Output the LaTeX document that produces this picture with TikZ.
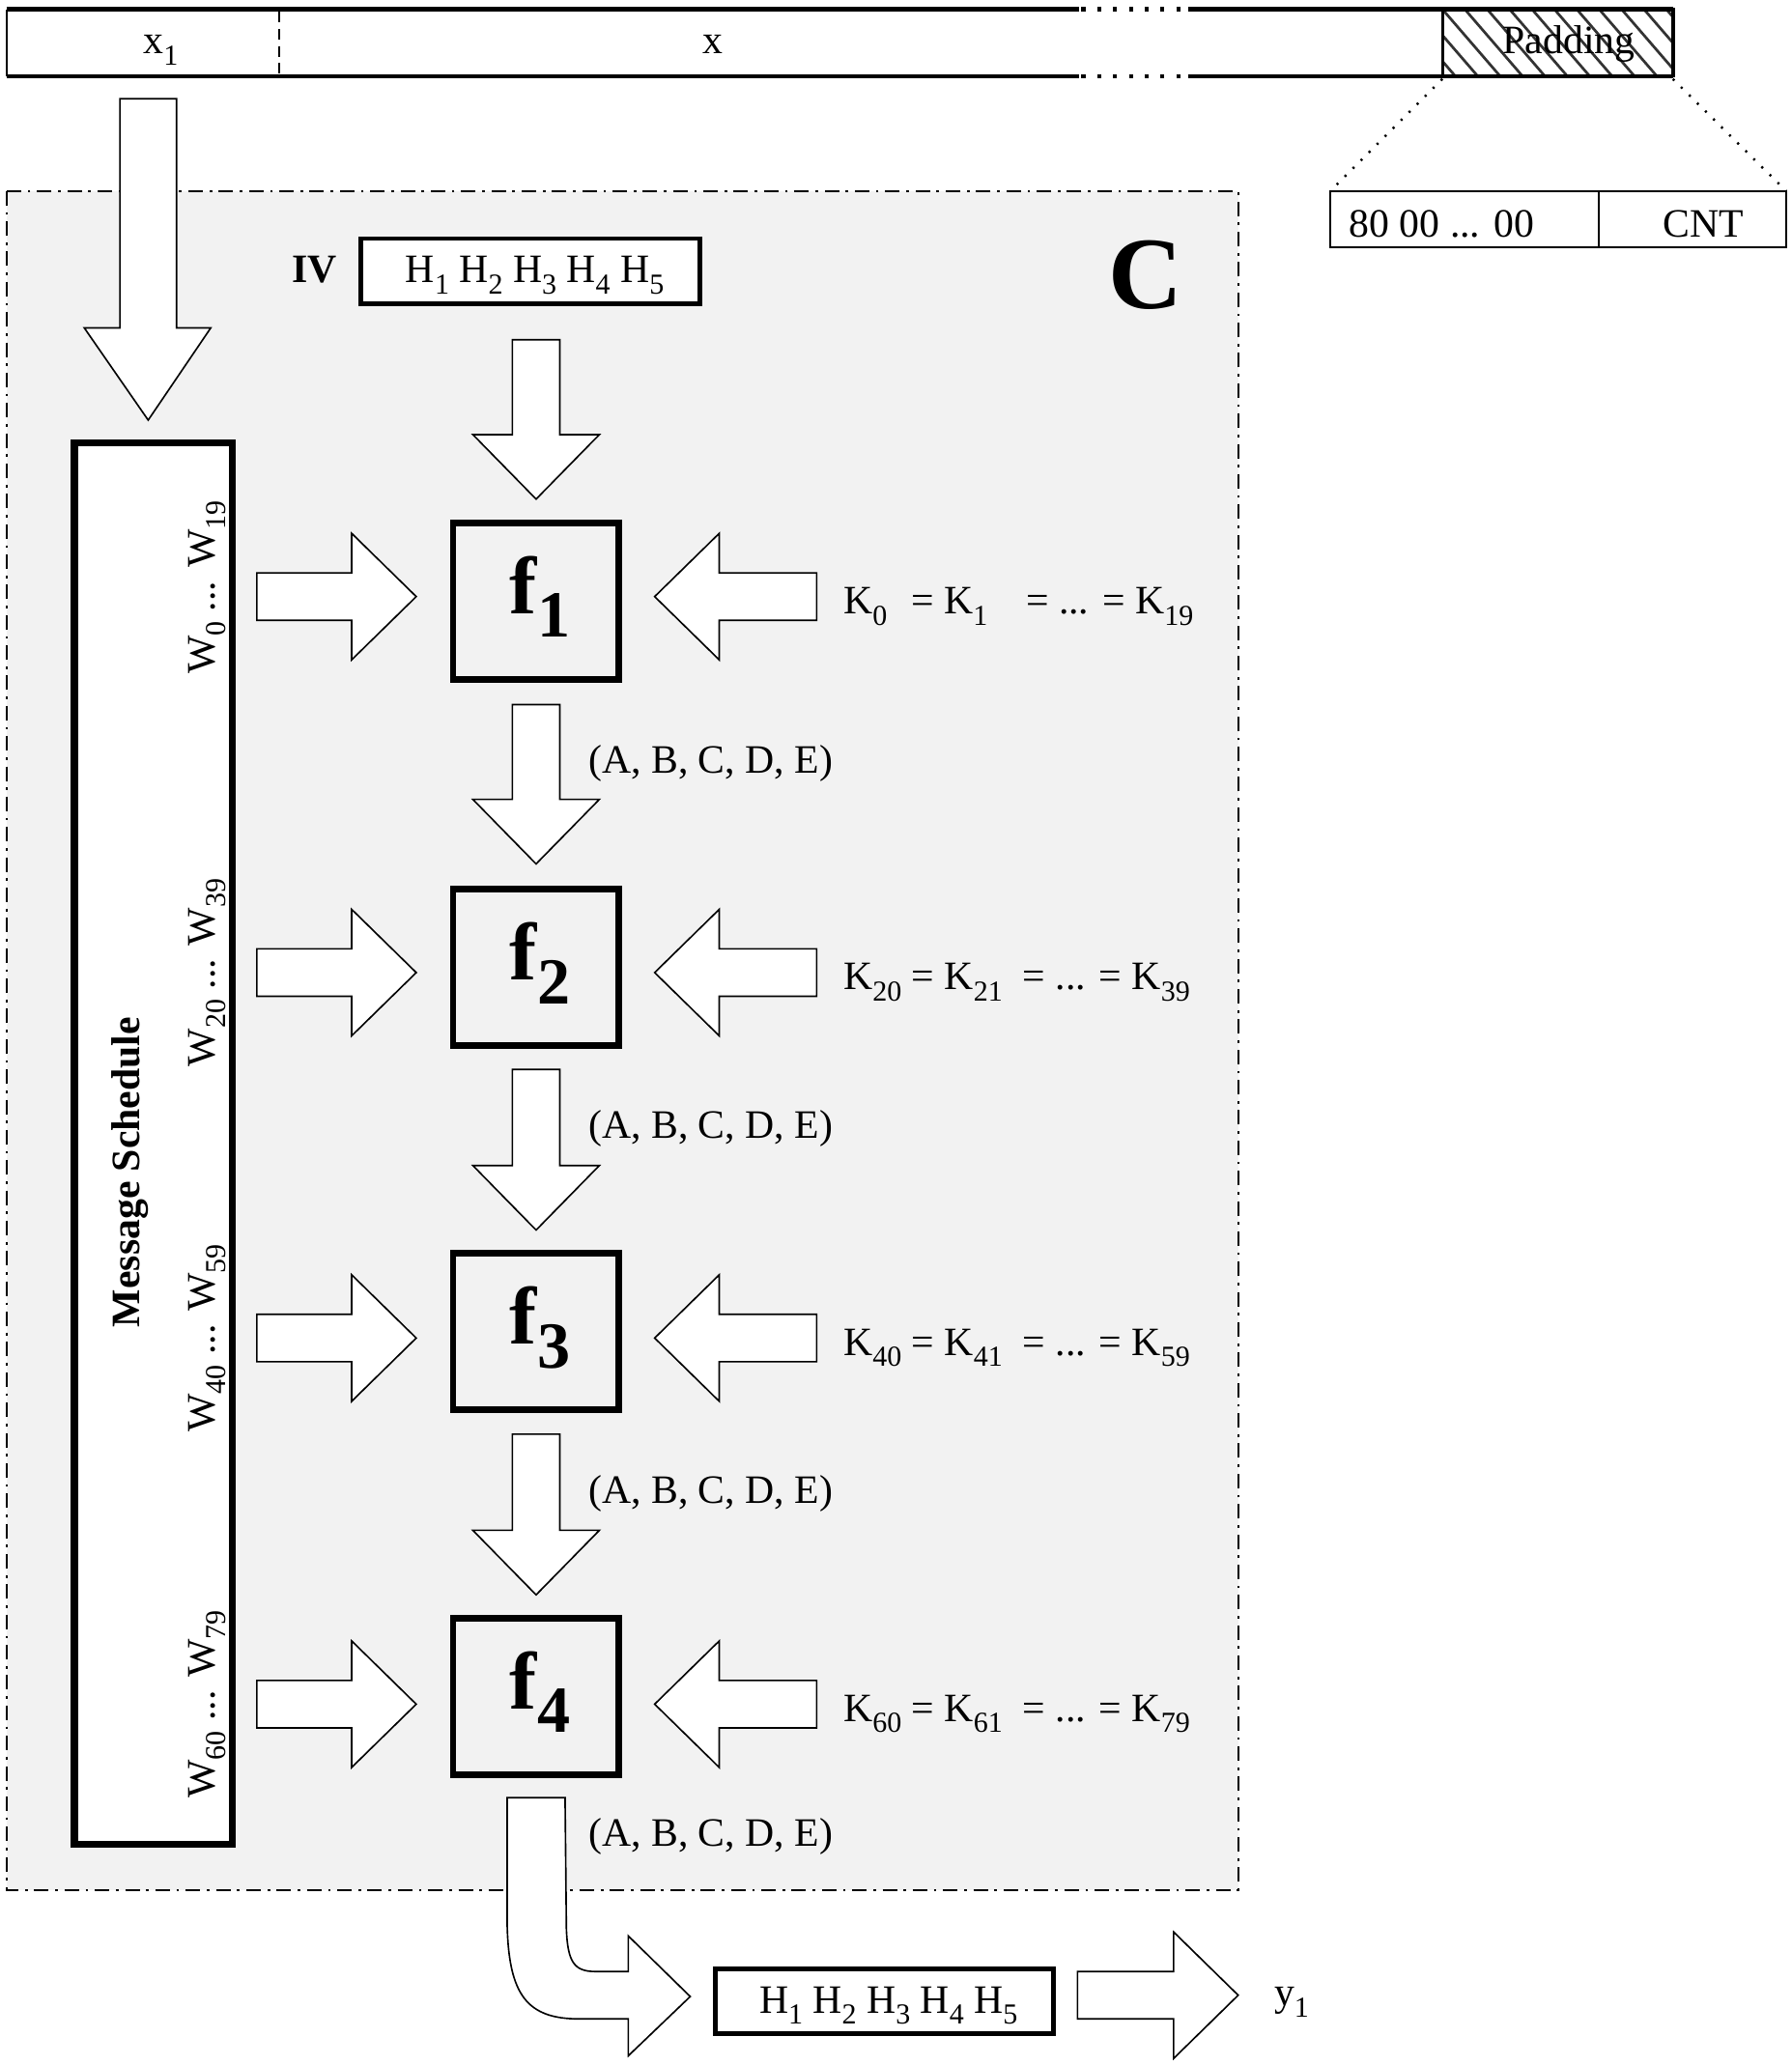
\documentclass[tikz,border=0pt]{standalone}
\usepackage{fontspec}
\setmainfont{Liberation Serif}
\newcommand{\mysub}[1]{\raisebox{-4.3pt}{\fontsize{11}{11}\selectfont #1}}
\newcommand{\flab}[1]{{\fontsize{31}{31}\selectfont\bfseries f\raisebox{-9pt}{\fontsize{25}{25}\selectfont #1}}}
\definecolor{graybg}{HTML}{F2F2F2}
\definecolor{hatchc}{HTML}{333333}
\tikzset{
  blk/.style={draw=black, fill=white, line width=0.6pt, line join=miter},
  fbox/.style={draw=black, line width=2.5pt, fill=graybg, minimum width=63pt, minimum height=59.5pt, inner sep=0pt},
  txt/.style={font=\fontsize{15.3}{18}\selectfont, inner sep=0pt},
  ddot/.style={line width=0.65pt, dash pattern=on 5.5pt off 2.5pt on 1pt off 2.5pt},
  dotl/.style={line width=0.9pt, dash pattern=on 0.8pt off 3.5pt},
}
\newcommand{\vblk}[3]{\draw[blk] ({#1-18},#2) -- ({#1+18},#2) -- ({#1+18},{#3-49}) -- ({#1+48},{#3-49}) -- (#1,#3) -- ({#1-48},{#3-49}) -- ({#1-18},{#3-49}) -- cycle;}
\newcommand{\rblk}[3]{\draw[blk] (#2,{#1-18}) -- ({#3-49},{#1-18}) -- ({#3-49},{#1-48}) -- (#3,#1) -- ({#3-49},{#1+48}) -- ({#3-49},{#1+18}) -- (#2,{#1+18}) -- cycle;}
\newcommand{\lblk}[3]{\draw[blk] (#2,{#1-18}) -- ({#3+49},{#1-18}) -- ({#3+49},{#1-48}) -- (#3,#1) -- ({#3+49},{#1+48}) -- ({#3+49},{#1+18}) -- (#2,{#1+18}) -- cycle;}
\begin{document}
\begin{tikzpicture}[x=0.5pt,y=-0.5pt]
\useasboundingbox[fill=white] (0,0) rectangle (1360,1568);

% ---------- top message bar ----------
\fill[white] (5,7) rectangle (1270,58);
\begin{scope}
  \clip (1095,7) rectangle (1270,58);
  \foreach \i in {-3,...,11}
    \draw[hatchc, line width=1pt] ({1095+\i*17},7) -- ({1095+\i*17+44},58);
\end{scope}
\draw[line width=1.5pt] (5,7) -- (819,7);
\draw[line width=1.5pt] (902,7) -- (1270,7);
\draw[line width=1.5pt] (5,58) -- (819,58);
\draw[line width=1.5pt] (902,58) -- (1270,58);
\draw[line width=1.5pt, dash pattern=on 1.5pt off 4.5pt] (821,7) -- (902,7);
\draw[line width=1.5pt, dash pattern=on 1.5pt off 4.5pt] (821,58) -- (902,58);
\draw[line width=0.6pt] (5,7) -- (5,58);
\draw[line width=0.6pt, dash pattern=on 4pt off 2.5pt] (212,9) -- (212,56);
\draw[line width=1.1pt] (1095,7) -- (1095,58);
\draw[line width=1.5pt] (1270,6) -- (1270,59);
\node[txt, anchor=base] (x1) at (122,41) {x\mysub{1}};
\node[txt, anchor=base] (xm) at (541,40.5) {x};
\node[txt, anchor=base] (pad) at (1191,40.4) {Padding};

% ---------- padding detail ----------
\coordinate (pl) at (1095,60);
\coordinate (pr) at (1270,60);
\coordinate (cl) at (1010,145);
\coordinate (cr) at (1356,145);
\draw[dotl] (pl) -- (cl);
\draw[dotl] (pr) -- (cr);
\draw[line width=0.8pt] (1010,145) rectangle (1356,188);
\draw[line width=0.8pt] (1214,145) -- (1214,188);
\node[txt, anchor=base west] (cnt0) at (1024,180) {80 00 ... 00};
\node[txt, anchor=base] (cnt) at (1293,180) {CNT};

% ---------- compression region ----------
\draw[ddot, fill=graybg] (5,145) rectangle (940,1435);

% big input arrow
\draw[blk] (91,75) -- (134,75) -- (134,249) -- (160,249) -- (112.5,319) -- (64,249) -- (91,249) -- cycle;

% message schedule
\node[draw=black, line width=2.6pt, fill=white, minimum width=60pt, minimum height=532pt, inner sep=0pt] (ms) at (116.5,868.5) {};
\node[font=\fontsize{15.3}{18}\selectfont\bfseries, inner sep=0pt, rotate=90, anchor=base] (mst) at (106,890) {Message Schedule};
\node[txt, rotate=90, anchor=base] (w1) at (163,446) {W\mysub{0} ... W\mysub{19}};
\node[txt, rotate=90, anchor=base] (w2) at (163,738.5) {W\mysub{20} ... W\mysub{39}};
\node[txt, rotate=90, anchor=base] (w3) at (163,1016) {W\mysub{40} ... W\mysub{59}};
\node[txt, rotate=90, anchor=base] (w4) at (163,1294) {W\mysub{60} ... W\mysub{79}};

% IV
\node[font=\fontsize{15.3}{18}\selectfont\bfseries, inner sep=0pt, anchor=base] (iv) at (238.5,214.6) {IV};
\node[draw=black, line width=1.65pt, fill=white, minimum width=128.75pt, minimum height=24.75pt, inner sep=0pt] (ivbox) at (402.75,205.75) {};
\node[txt, anchor=base] (ivh) at (406,214.6) {H\mysub{1} H\mysub{2} H\mysub{3} H\mysub{4} H\mysub{5}};
\node[font=\fontsize{39}{39}\selectfont\bfseries, inner sep=0pt, anchor=base] (cc) at (870,234) {C};

% vertical arrows
\vblk{407}{258}{379}
\vblk{407}{535}{656}
\vblk{407}{812}{934}
\vblk{407}{1089}{1211}

% horizontal arrows
\rblk{453}{195}{316}
\rblk{738.5}{195}{316}
\rblk{1016}{195}{316}
\rblk{1294}{195}{316}
\lblk{453}{620}{497}
\lblk{738.5}{620}{497}
\lblk{1016}{620}{497}
\lblk{1294}{620}{497}

% round function boxes
\node[fbox] (f1) at (407,456.5) {};
\node[fbox] (f2) at (407,734.5) {};
\node[fbox] (f3) at (407,1011) {};
\node[fbox] (f4) at (407,1288) {};
\node[inner sep=0pt, anchor=base] (f1t) at (410,466) {\flab{1}};
\node[inner sep=0pt, anchor=base] (f2t) at (410,744) {\flab{2}};
\node[inner sep=0pt, anchor=base] (f3t) at (410,1020.5) {\flab{3}};
\node[inner sep=0pt, anchor=base] (f4t) at (410,1297.5) {\flab{4}};

% constants
\node[txt, anchor=base west] (k1) at (640,466) {K\mysub{0}\hspace{0.6em}= K\mysub{1}\hspace{0.95em}= ... = K\mysub{19}};
\node[txt, anchor=base west] (k2) at (640,751.5) {K\mysub{20} = K\mysub{21}\ \ = ... = K\mysub{39}};
\node[txt, anchor=base west] (k3) at (640,1029) {K\mysub{40} = K\mysub{41}\ \ = ... = K\mysub{59}};
\node[txt, anchor=base west] (k4) at (640,1307) {K\mysub{60} = K\mysub{61}\ \ = ... = K\mysub{79}};

% state labels
\node[txt, anchor=base west] (s1) at (446.5,587) {(A, B, C, D, E)};
\node[txt, anchor=base west] (s2) at (446.5,864.5) {(A, B, C, D, E)};
\node[txt, anchor=base west] (s3) at (446.5,1141.5) {(A, B, C, D, E)};
\node[txt, anchor=base west] (s4) at (446.5,1402) {(A, B, C, D, E)};

% ---------- output ----------
\draw[blk] (385,1365) -- (429,1365) -- (430,1465) .. controls (431,1490) and (436,1497) .. (452,1497)
  -- (477,1497) -- (477,1470) -- (524,1516) -- (477,1561) -- (477,1533) -- (440,1533)
  .. controls (400,1533) and (386,1515) .. (385,1460) -- cycle;
\node[draw=black, line width=1.8pt, fill=white, minimum width=128.5pt, minimum height=24.5pt, inner sep=0pt] (hout) at (671.5,1519.5) {};
\node[txt, anchor=base] (hth) at (674.5,1528.5) {H\mysub{1} H\mysub{2} H\mysub{3} H\mysub{4} H\mysub{5}};
\rblk{1515}{818}{940}
\node[txt, anchor=base west] (y1) at (967,1523) {y\mysub{1}};
\end{tikzpicture}
\end{document}
